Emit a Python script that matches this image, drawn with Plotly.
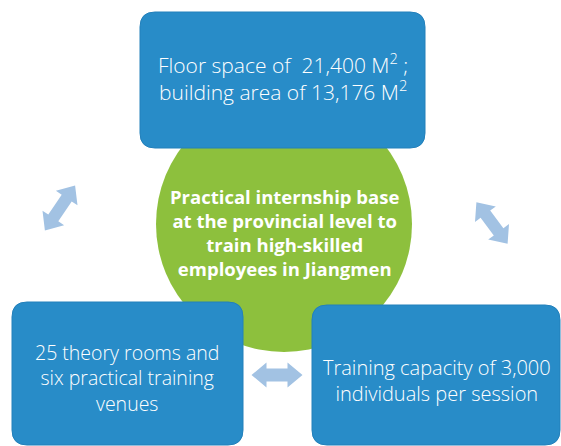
import math
import plotly.graph_objects as go

# texts shown in the diagram
top_text = ["Floor space of  21,400 M<sup>2</sup> ;", "building area of 13,176 M<sup>2</sup>"]
left_text = ["25 theory rooms and", "six practical training", "venues"]
right_text = ["Training capacity of 3,000", "individuals per session"]
center_text = ["Practical internship base", "at the provincial level to",
               "train high-skilled", "employees in Jiangmen"]

BLUE = "#288cc8"
GREEN = "#8dc03d"
ARROW = "#a2c2e3"

W, H = 561, 446


def rounded_rect(x0, y0, x1, y1, r):
    return (f"M {x0+r},{y0} L {x1-r},{y0} Q {x1},{y0} {x1},{y0+r} "
            f"L {x1},{y1-r} Q {x1},{y1} {x1-r},{y1} L {x0+r},{y1} "
            f"Q {x0},{y1} {x0},{y1-r} L {x0},{y0+r} Q {x0},{y0} {x0+r},{y0} Z")


def double_arrow(cx, cy, angle, length, shaft, head, head_len):
    a = math.radians(angle)
    ux, uy = math.cos(a), math.sin(a)
    nx, ny = -uy, ux
    h = length / 2
    local = [(h, 0), (h - head_len, head / 2), (h - head_len, shaft / 2),
             (-h + head_len, shaft / 2), (-h + head_len, head / 2), (-h, 0),
             (-h + head_len, -head / 2), (-h + head_len, -shaft / 2),
             (h - head_len, -shaft / 2), (h - head_len, -head / 2)]
    pts = [(cx + s * ux + t * nx, cy + s * uy + t * ny) for s, t in local]
    return "M " + " L ".join(f"{x:.1f},{y:.1f}" for x, y in pts) + " Z"


fig = go.Figure()

shapes = []
# green circle behind the boxes
cx, cy, r = 284, 224, 128
shapes.append(dict(type="circle", x0=cx - r, x1=cx + r, y0=cy - r, y1=cy + r,
                   fillcolor=GREEN, line=dict(width=0)))

boxes = [(140, 12, 425, 148), (12, 302, 243, 445), (312, 305, 560, 445)]
for x0, y0, x1, y1 in boxes:
    shapes.append(dict(type="path", path=rounded_rect(x0, y0, x1, y1, 15),
                       fillcolor=BLUE, line=dict(color="#2280bb", width=1)))

arrows = [(60, 208, -56, 54, 12, 26, 15),
          (492, 223, 53, 52, 12, 26, 15),
          (277, 375, 0, 51, 13, 25, 15)]
for a in arrows:
    shapes.append(dict(type="path", path=double_arrow(*a),
                       fillcolor=ARROW, line=dict(width=0)))

light = dict(family="Open Sans, Noto Sans, sans-serif", color="white", weight=300)
bold = dict(family="Open Sans, Noto Sans, sans-serif", color="white", weight=700)

annotations = [
    dict(x=283, y=77, text="<br>".join(top_text), font=dict(size=21, **light)),
    dict(x=127, y=378, text="<br>".join(left_text), font=dict(size=19.5, **light)),
    dict(x=437, y=380, text="<br>".join(right_text), font=dict(size=20, **light)),
    dict(x=284, y=232, text="<br>".join(center_text), font=dict(size=18.5, **bold)),
]
for an in annotations:
    an.update(showarrow=False, xref="x", yref="y", align="center")

fig.update_layout(
    width=W, height=H,
    margin=dict(l=0, r=0, t=0, b=0),
    paper_bgcolor="white", plot_bgcolor="white",
    shapes=shapes, annotations=annotations,
    xaxis=dict(range=[0, W], visible=False, fixedrange=True),
    yaxis=dict(range=[H, 0], visible=False, fixedrange=True),
    showlegend=False,
)

fig.write_html("out.html", config={"displayModeBar": False},
               post_script="document.body.style.margin='0';")
